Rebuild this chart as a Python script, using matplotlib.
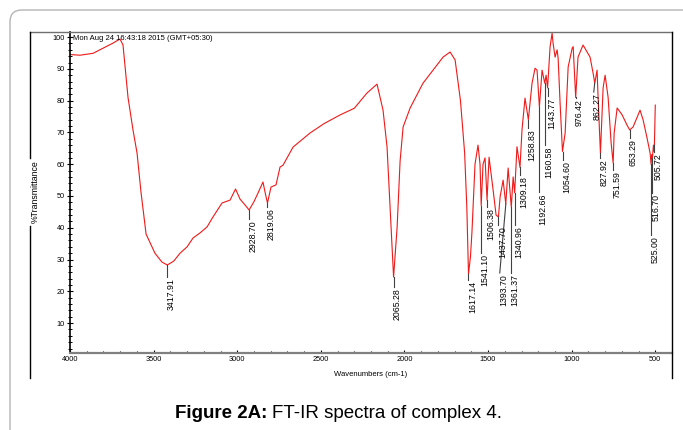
import numpy as np
import matplotlib
matplotlib.use('Agg')
import matplotlib.pyplot as plt
from matplotlib.lines import Line2D
from matplotlib.patches import FancyBboxPatch

plt.rcParams['font.family'] = ['Liberation Sans', 'DejaVu Sans']

# %% spectrum (wavenumber, %T)
wavenumber = [4000, 3940, 3862, 3803, 3743, 3701, 3683, 3653, 3623, 3599,
              3575, 3545, 3492, 3450, 3418, 3380, 3342, 3300, 3264, 3222,
              3180, 3145, 3091, 3043, 3010, 2983, 2955, 2929, 2900, 2876,
              2846, 2832, 2819, 2798, 2768, 2744, 2726, 2666, 2565, 2480,
              2385, 2300, 2224, 2164, 2128, 2104, 2086, 2065, 2044, 2026,
              2008, 1966, 1889, 1829, 1769, 1727, 1697, 1665, 1640, 1627,
              1617, 1605, 1596, 1578, 1560, 1548, 1541, 1530, 1518, 1506,
              1494, 1470, 1452, 1438, 1428, 1410, 1394, 1380, 1361, 1350,
              1341, 1327, 1309, 1297, 1279, 1259, 1237, 1219, 1207, 1193,
              1177, 1161, 1153, 1144, 1129, 1117, 1111, 1099, 1087, 1081,
              1069, 1055, 1039, 1021, 997, 991, 976, 962, 932, 908,
              890, 872, 862, 848, 842, 828, 812, 800, 782, 764,
              752, 746, 728, 698, 669, 653, 633, 591, 573, 549,
              531, 525, 521, 517, 511, 506, 500]
transmittance = [94.5, 94.3, 94.9, 96.5, 98.1, 99.4, 97.5, 81, 70.7, 63.5,
                 51, 38, 32, 29.2, 28.3, 29.5, 32, 34, 36.8, 38.4,
                 40.3, 43.4, 47.8, 48.7, 52.2, 49, 47.3, 45.6, 48.2, 50.9,
                 54.4, 50.8, 47.8, 52.8, 53.5, 59.1, 59.7, 65.4, 69.8, 72.8,
                 75.5, 77.6, 82.4, 85.2, 77, 65.4, 46.5, 24.5, 40, 61,
                 71.7, 77.7, 85.5, 89.6, 93.7, 95.3, 92.8, 80, 63.5, 46.5,
                 25.5, 31, 39, 60, 66, 60, 47, 60, 62, 48.7,
                 62.2, 52, 44, 43.4, 49.7, 55, 47.5, 58.8, 46.5, 56,
                 51, 65.5, 59, 70.8, 80.8, 74, 85.5, 90.2, 89.6, 78,
                 89.6, 85.5, 88, 84, 97, 101.2, 98, 93.7, 96, 93.4,
                 79, 64, 69.8, 90.6, 96.5, 97, 81, 93.7, 97.5, 95.3,
                 93.7, 88.7, 85.5, 89.6, 81, 63.5, 84, 88, 81, 66.7,
                 60.4, 69.8, 77.7, 75.5, 72.3, 70.8, 71.7, 77, 74, 68.2,
                 63.5, 60, 63, 62, 66, 64, 78.6]

# %% peak labels
peak_names = ['3417.91', '2928.70', '2819.06', '2065.28', '1617.14', '1541.10',
              '1506.38', '1437.70', '1393.70', '1361.37', '1340.96', '1309.18',
              '1258.83', '1192.66', '1160.58', '1143.77', '1054.60', '976.42',
              '862.27', '827.92', '751.59', '653.29', '525.00', '516.70', '505.72']
peak_wn = [float(p) for p in peak_names]
peak_t = [28.3, 45.6, 47.8, 24.5, 25.5, 47, 48.7, 43.4, 47.5, 46.5, 51, 59,
          74, 78, 85.5, 84, 64, 81, 85.5, 63.5, 60.4, 70.8, 60, 62, 66]
# where the text of each label starts (top of rotated text)
label_top = [24.5, 42.8, 46.5, 21.4, 23.6, 32.1, 46.5, 40.9, 25.8, 25.8, 40.9, 56.6,
             71.4, 51.3, 66, 81.4, 61.3, 80.8, 82.7, 62, 58.2, 68.2, 37.7, 50.9, 63.8]
label_wn = list(peak_wn)
label_wn[peak_names.index('1393.70')] = 1430
label_wn[peak_names.index('862.27')] = 868

xticks = [4000, 3500, 3000, 2500, 2000, 1500, 1000, 500]
yticks = [10, 20, 30, 40, 50, 60, 70, 80, 90, 100]

# %% figure
W, H = 683, 430
fig = plt.figure(figsize=(W / 100, H / 100), dpi=100)

def fx(px):
    return px / W

def fy(py):
    return 1 - py / H

# outer rounded frame
frame = FancyBboxPatch((0.10, -0.5), 7.5, 4.70, boxstyle='round,pad=0,rounding_size=0.12',
                       transform=fig.dpi_scale_trans, fill=False, ec='#b4b4b4', lw=1.0)
fig.patches.append(frame)

# inner box lines
fig.add_artist(Line2D([fx(30), fx(672)], [fy(32), fy(32)], color='#707070', lw=1.0))
fig.add_artist(Line2D([fx(30), fx(30)], [fy(32), fy(158)], color='black', lw=1.0))
fig.add_artist(Line2D([fx(30), fx(30)], [fy(226), fy(378)], color='black', lw=1.0))
fig.add_artist(Line2D([fx(672), fx(672)], [fy(32), fy(378)], color='black', lw=1.0))

ax = fig.add_axes([fx(70), fy(353), fx(672) - fx(70), fy(32) - fy(353)])
ax.patch.set_alpha(0)
ax.plot(wavenumber, transmittance, color='#f01818', lw=0.8)

for name, wn, t, lwn, top in zip(peak_names, peak_wn, peak_t, label_wn, label_top):
    ax.plot([wn, lwn], [t, top], color='#404040', lw=0.8)
    ax.text(lwn + 4, top - 0.4, name, rotation=90, ha='left', va='top', fontsize=6.3)

ax.set_xlim(4000, 400)
ax.set_ylim(0.6, 101.6)
ax.set_xticks(xticks)
ax.set_xticks(np.arange(500, 4001, 100), minor=True)
ax.set_yticks(yticks)
ax.set_yticks(np.arange(2, 101, 2), minor=True)
ax.tick_params(axis='x', which='major', direction='in', length=2.5, width=0.8, pad=2, labelsize=5.3)
ax.tick_params(axis='x', which='minor', direction='in', length=1.5, width=0.8)
ax.tick_params(axis='y', which='major', direction='inout', length=4, width=0.8, pad=1.5, labelsize=5.3)
ax.tick_params(axis='y', which='minor', direction='inout', length=2.5, width=0.7)
for s in ['top', 'right']:
    ax.spines[s].set_visible(False)
ax.spines['left'].set_linewidth(1.2)
ax.spines['bottom'].set_color('#808080')
ax.spines['bottom'].set_linewidth(1.6)

fig.text(fx(73), fy(38), 'Mon Aug 24 16:43:18 2015 (GMT+05:30)', fontsize=5.5, va='center', ha='left')
fig.text(fx(35), fy(192), '%Transmittance', rotation=90, fontsize=6.3, ha='center', va='center')
fig.text(fx(371), fy(375), 'Wavenumbers (cm-1)', fontsize=5.5, ha='center', va='center')

fig.text(fx(267), fy(418), 'Figure 2A:', fontsize=13.5, fontweight='bold', ha='right', va='baseline')
fig.text(fx(272), fy(418), 'FT-IR spectra of complex 4.', fontsize=13.5, ha='left', va='baseline')

fig.savefig('out.png', dpi=100)
